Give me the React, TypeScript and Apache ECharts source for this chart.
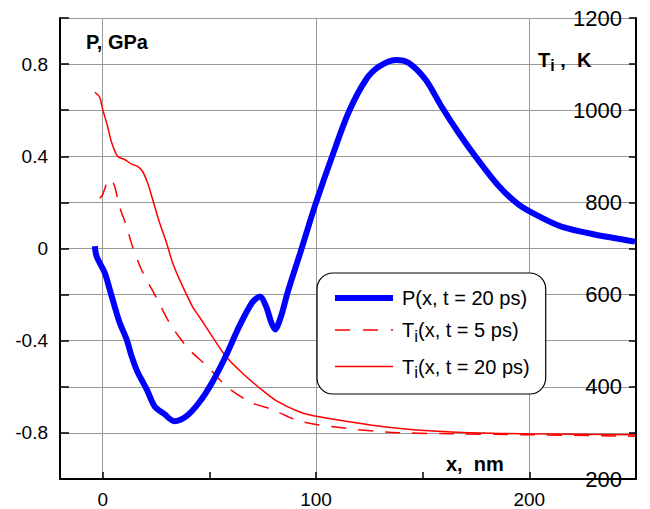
import React, { useEffect, useRef } from "react";
import * as echarts from "echarts";

const FONT = '"Liberation Sans", Arial, Helvetica, sans-serif';

// P(x, t = 20 ps), GPa
const pressureX = [-3.7, -2.8, 0.9, 3.3, 5.6, 7.9, 11.2, 13.6, 16.4, 20.6, 24.3, 29.0, 33.6, 39.3, 45.3, 51.4, 57.9, 64.0, 70.1, 73.8, 76.6, 79.0, 80.8, 83.6, 86.4, 89.0, 92.5, 96.0, 100, 107.5, 115.4, 123.4, 129.4, 137.4, 143.5, 151.4, 158.9, 166.8, 175.0, 185.0, 195.0, 205.0, 215.0, 230.0, 249.5];
const pressureP = [0.01, -0.035, -0.104, -0.177, -0.251, -0.32, -0.394, -0.468, -0.537, -0.61, -0.684, -0.719, -0.749, -0.727, -0.667, -0.58, -0.463, -0.338, -0.234, -0.208, -0.251, -0.32, -0.351, -0.294, -0.2, -0.122, -0.022, 0.082, 0.199, 0.398, 0.593, 0.732, 0.788, 0.818, 0.805, 0.732, 0.615, 0.502, 0.396, 0.278, 0.19, 0.137, 0.095, 0.062, 0.03];

// Ti(x, t = 5 ps), K
const t5X = [-1.4, 0, 2.3, 3.7, 5.6, 7.9, 11.2, 14.0, 18.2, 25.2, 31.3, 36.0, 40.7, 48.6, 59.3, 70.1, 79.4, 90.7, 101.4, 132.7, 163.6, 199.5, 249.5];
const t5T = [809, 817, 846, 850, 835, 791, 748, 704, 654, 593, 539, 507, 480, 446, 396, 365, 351, 328, 317, 302, 298, 296, 293];

// Ti(x, t = 20 ps), K
const t20X = [-3.7, -1.4, 0, 2.3, 4.2, 7.0, 10.3, 13.6, 16.4, 18.7, 21.0, 23.4, 26.6, 29.9, 32.7, 36.0, 42.1, 45.3, 51.4, 57.9, 65.4, 73.4, 81.3, 92.1, 101.4, 132.7, 163.6, 199.5, 249.5];
const t20T = [1039, 1028, 1002, 965, 930, 900, 893, 883, 878, 867, 843, 807, 757, 713, 670, 633, 574, 552, 509, 465, 430, 398, 370, 346, 335, 313, 302, 298, 296];

const seriesNames = ["P(x, t = 20 ps)", "Ti(x, t = 5 ps)", "Ti(x, t = 20 ps)"];
const xLabelValues = [0, 100, 200];
const pLabelValues = [-0.8, -0.4, 0, 0.4, 0.8];
const tLabelValues = [200, 400, 600, 800, 1000, 1200];

const zip = (xs: number[], ys: number[]) => xs.map((x, i) => [x, ys[i]]);

export default function App() {
  const ref = useRef<HTMLDivElement>(null);
  useEffect(() => {
    const chart = echarts.init(ref.current!, null, { renderer: "svg" });
    const labelStyle = { color: "#000", fontFamily: FONT, fontSize: 19 };
    const boldText = { fontSize: 20, fontWeight: "bold", fontFamily: FONT, fill: "#000" };
    chart.setOption({
      animation: false,
      backgroundColor: "#fff",
      grid: { left: 60, right: 14, top: 18, bottom: 30, containLabel: false, outerBoundsMode: "none" },
      xAxis: [
        {
          type: "value", min: -20, max: 250, minInterval: 50, maxInterval: 50, position: "bottom",
          axisLine: { show: true, onZero: false, lineStyle: { color: "#000", width: 2 } },
          axisTick: { show: true, inside: true, length: 7, lineStyle: { color: "#000", width: 1.5 } },
          axisLabel: {
            ...labelStyle, margin: 11,
            formatter: (v: number) => (xLabelValues.includes(Math.round(v)) ? String(Math.round(v)) : ""),
          },
          splitLine: { show: false },
        },
        {
          type: "value", min: -20, max: 250, minInterval: 100, maxInterval: 100, position: "bottom",
          axisLine: { show: false }, axisTick: { show: false }, axisLabel: { show: false },
          splitLine: { show: true, lineStyle: { color: "#999", width: 1 } },
        },
      ],
      yAxis: [
        {
          type: "value", min: -1, max: 1, interval: 0.2, position: "left",
          axisLine: { show: true, onZero: false, lineStyle: { color: "#000", width: 2 } },
          axisTick: { show: true, inside: true, length: 9, lineStyle: { color: "#000", width: 1.5 } },
          axisLabel: {
            ...labelStyle, margin: 12,
            formatter: (v: number) => {
              const r = Math.round(v * 10) / 10;
              return pLabelValues.some((p) => Math.abs(p - r) < 1e-6) ? String(r) : "";
            },
          },
          splitLine: { show: true, lineStyle: { color: "#999", width: 1 } },
        },
        {
          type: "value", min: 200, max: 1200, interval: 100, position: "right",
          axisLine: { show: true, onZero: false, lineStyle: { color: "#000", width: 2 } },
          axisTick: { show: true, inside: true, length: 7, lineStyle: { color: "#000", width: 1.5 } },
          axisLabel: {
            ...labelStyle, fontSize: 22, inside: true, margin: 14,
            formatter: (v: number) => (tLabelValues.includes(Math.round(v)) ? String(Math.round(v)) : ""),
          },
          splitLine: { show: false },
        },
      ],
      legend: {
        show: true, orient: "vertical", left: 317, top: 273,
        padding: [15, 16, 13, 15], itemGap: 12, itemWidth: 58, itemHeight: 20,
        backgroundColor: "#fff", borderColor: "#000", borderWidth: 1.2, borderRadius: 16,
        selectedMode: false, z: 10,
        itemStyle: { opacity: 0 },
        textStyle: {
          fontSize: 20, color: "#000", fontFamily: FONT, padding: [0, 0, 0, 4],
          rich: { s: { fontSize: 17, color: "#000", fontFamily: FONT, padding: [12, 0, 0, 0] } },
        },
        formatter: (n: string) => (n.startsWith("Ti") ? "T{s|i}" + n.slice(2) : n),
        data: [
          { name: seriesNames[0], lineStyle: { width: 6, color: "#0000ff" } },
          { name: seriesNames[1], lineStyle: { width: 1.5, color: "#ff0000", type: [15, 13] } },
          { name: seriesNames[2], lineStyle: { width: 1.5, color: "#ff0000" } },
        ],
      },
      series: [
        {
          name: seriesNames[0], type: "line", xAxisIndex: 0, yAxisIndex: 0,
          data: zip(pressureX, pressureP), symbol: "none", showSymbol: false, smooth: 0.3, z: 4,
          itemStyle: { color: "#0000ff" }, lineStyle: { color: "#0000ff", width: 6 },
        },
        {
          name: seriesNames[1], type: "line", xAxisIndex: 0, yAxisIndex: 1,
          data: zip(t5X, t5T), symbol: "none", showSymbol: false, smooth: 0.3, z: 3,
          itemStyle: { color: "#ff0000" }, lineStyle: { color: "#ff0000", width: 1.5, type: [15, 12] },
        },
        {
          name: seriesNames[2], type: "line", xAxisIndex: 0, yAxisIndex: 1,
          data: zip(t20X, t20T), symbol: "none", showSymbol: false, smooth: 0.3, z: 3,
          itemStyle: { color: "#ff0000" }, lineStyle: { color: "#ff0000", width: 1.5 },
        },
      ],
      graphic: [
        { type: "text", left: 86, top: 32, z: 10, style: { text: "P, GPa", ...boldText } },
        {
          type: "text", left: 538, top: 50, z: 10,
          style: {
            text: "{b|T}{s|i}{b| ,  K}",
            rich: {
              b: { ...boldText },
              s: { ...boldText, fontSize: 16, padding: [10, 0, 0, 0] },
            },
          },
        },
        { type: "text", left: 446, top: 454, z: 10, style: { text: "x,  nm", ...boldText } },
      ],
    });
    return () => chart.dispose();
  }, []);
  return <div ref={ref} style={{ position: "absolute", left: 0, top: 0, width: 650, height: 509 }} />;
}
